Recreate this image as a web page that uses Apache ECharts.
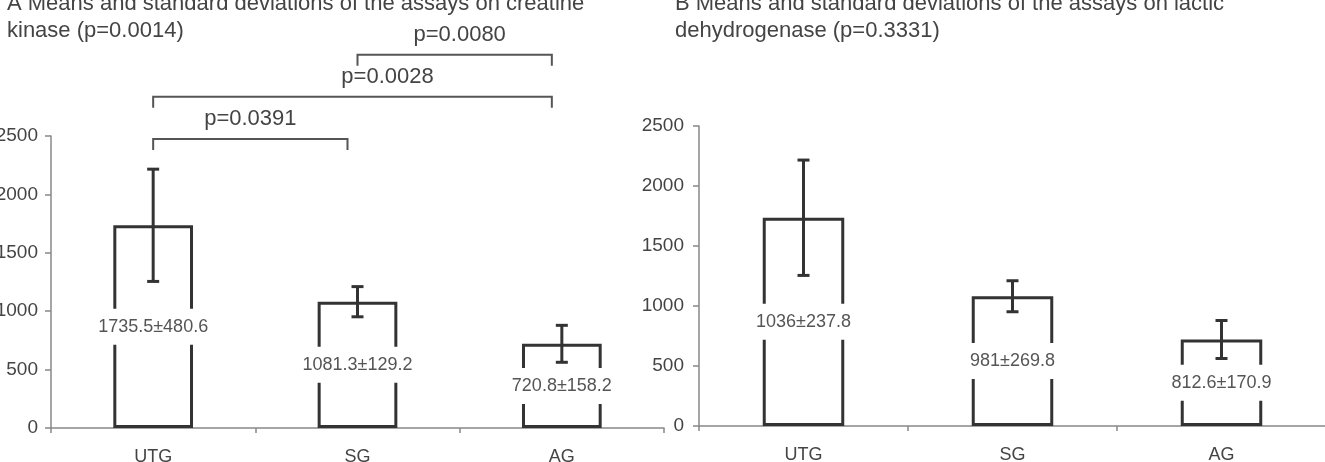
<!DOCTYPE html>
<html>
<head>
<meta charset="utf-8">
<script src="https://cdn.jsdelivr.net/npm/echarts@6/dist/echarts.min.js"></script>
<style>
  html, body { margin: 0; padding: 0; background: #fff; }
  #chart { width: 1325px; height: 462px; }
</style>
</head>
<body>
<div id="chart"></div>
<script>
const groups = ['UTG', 'SG', 'AG']
const yTicks = [0, 500, 1000, 1500, 2000, 2500]

// A: creatine kinase
const ckMean = [1735.5, 1081.3, 720.8]
const ckSd = [480.6, 129.2, 158.2]

// B: lactic dehydrogenase (printed values)
const ldhMean = [1036, 981, 812.6]
const ldhSd = [237.8, 269.8, 170.9]
// the figure draws panel B bars at the same heights as panel A
const ldhBarMean = [1735.5, 1081.3, 720.8]
const ldhBarSd = [480.6, 129.2, 158.2]

// significance brackets on panel A
const sigPairs = [[0, 1], [0, 2], [1, 2]]
const sigText = ['p=0.0391', 'p=0.0028', 'p=0.0080']
const sigLevel = [2475, 2835, 3195]

const FONT = '"Liberation Sans", Arial, sans-serif'
const INK = '#333'
const TXT = '#444'

function errItem(params, api) {
  const x = api.value(0)
  const top = api.coord([x, api.value(2)])
  const bot = api.coord([x, api.value(1)])
  const cap = 6
  const st = { stroke: INK, lineWidth: 3 }
  return {
    type: 'group',
    children: [
      { type: 'line', shape: { x1: top[0], y1: top[1], x2: bot[0], y2: bot[1] }, style: st },
      { type: 'line', shape: { x1: top[0] - cap, y1: top[1], x2: top[0] + cap, y2: top[1] }, style: st },
      { type: 'line', shape: { x1: bot[0] - cap, y1: bot[1], x2: bot[0] + cap, y2: bot[1] }, style: st }
    ]
  }
}

const textShift = [0, 35, 5]
function bracketItem(params, api) {
  const i = params.dataIndex
  const a = api.coord([api.value(0), api.value(2)])
  const b = api.coord([api.value(1), api.value(2)])
  const x1 = a[0], x2 = b[0] - 10, y = a[1], drop = 11
  return {
    type: 'group',
    children: [
      {
        type: 'polyline',
        shape: { points: [[x1, y + drop], [x1, y], [x2, y], [x2, y + drop]] },
        style: { stroke: '#555', lineWidth: 2, fill: null }
      },
      {
        type: 'text',
        x: (x1 + x2) / 2 + textShift[i],
        y: y - 20,
        style: { text: sigText[i], align: 'center', verticalAlign: 'middle', fontSize: 22, fontFamily: FONT, fill: TXT }
      }
    ]
  }
}

function xAxis(gridIndex) {
  return {
    type: 'category',
    gridIndex,
    data: groups,
    axisLine: { lineStyle: { color: '#888', width: 1.5 } },
    axisTick: { show: true, length: 5, lineStyle: { color: '#888', width: 1.5 } },
    axisLabel: { color: TXT, fontSize: 18, fontFamily: FONT, margin: 20 }
  }
}
function yAxis(gridIndex, margin) {
  return {
    type: 'value',
    gridIndex,
    min: yTicks[0],
    max: yTicks[yTicks.length - 1],
    interval: yTicks[1] - yTicks[0],
    axisLine: { show: true, lineStyle: { color: '#888', width: 1.5 } },
    axisTick: { show: true, length: 6, lineStyle: { color: '#888', width: 1.5 } },
    axisLabel: { color: TXT, fontSize: 19, fontFamily: FONT, margin, formatter: v => String(v) },
    splitLine: { show: false }
  }
}
function barSeries(idx, means, labels) {
  return {
    type: 'bar',
    xAxisIndex: idx,
    yAxisIndex: idx,
    barWidth: '39%',
    data: means,
    itemStyle: { color: '#fff', borderColor: INK, borderWidth: 3 },
    label: {
      show: true,
      position: 'inside',
      formatter: p => labels[p.dataIndex],
      color: '#555',
      fontSize: 18,
      fontFamily: FONT,
      lineHeight: 18,
      backgroundColor: '#fff',
      padding: [9, 3]
    },
    silent: true
  }
}

const chart = echarts.init(document.getElementById('chart'))
chart.setOption({
  animation: false,
  title: [
    {
      text: 'A Means and standard deviations of the assays on creatine\nkinase (p=0.0014)',
      left: 2, top: -15,
      textStyle: { color: TXT, fontSize: 22, fontWeight: 'normal', fontFamily: FONT, lineHeight: 27 }
    },
    {
      text: 'B Means and standard deviations of the assays on lactic\ndehydrogenase (p=0.3331)',
      left: 670, top: -15,
      textStyle: { color: TXT, fontSize: 22, fontWeight: 'normal', fontFamily: FONT, lineHeight: 27 }
    }
  ],
  grid: [
    { left: 51, top: 136, width: 613, height: 292, containLabel: false, outerBoundsMode: 'none' },
    { left: 699, top: 126, width: 627, height: 300, containLabel: false, outerBoundsMode: 'none' }
  ],
  xAxis: [xAxis(0), xAxis(1)],
  yAxis: [yAxis(0, 13), yAxis(1, 15)],
  series: [
    barSeries(0, ckMean, ckMean.map((m, i) => m + '±' + ckSd[i])),
    {
      type: 'custom',
      xAxisIndex: 0, yAxisIndex: 0,
      renderItem: errItem,
      encode: { x: 0, y: [1, 2] },
      data: ckMean.map((m, i) => [i, m - ckSd[i], m + ckSd[i]]),
      z: 5, silent: true
    },
    {
      type: 'custom',
      xAxisIndex: 0, yAxisIndex: 0,
      renderItem: bracketItem,
      clip: false,
      encode: { x: [0, 1], y: 2 },
      data: sigPairs.map((p, k) => [p[0], p[1], sigLevel[k]]),
      silent: true
    },
    barSeries(1, ldhBarMean, ldhMean.map((m, i) => m + '±' + ldhSd[i])),
    {
      type: 'custom',
      xAxisIndex: 1, yAxisIndex: 1,
      renderItem: errItem,
      encode: { x: 0, y: [1, 2] },
      data: ldhBarMean.map((m, i) => [i, m - ldhBarSd[i], m + ldhBarSd[i]]),
      z: 5, silent: true
    }
  ]
})
</script>
</body>
</html>
